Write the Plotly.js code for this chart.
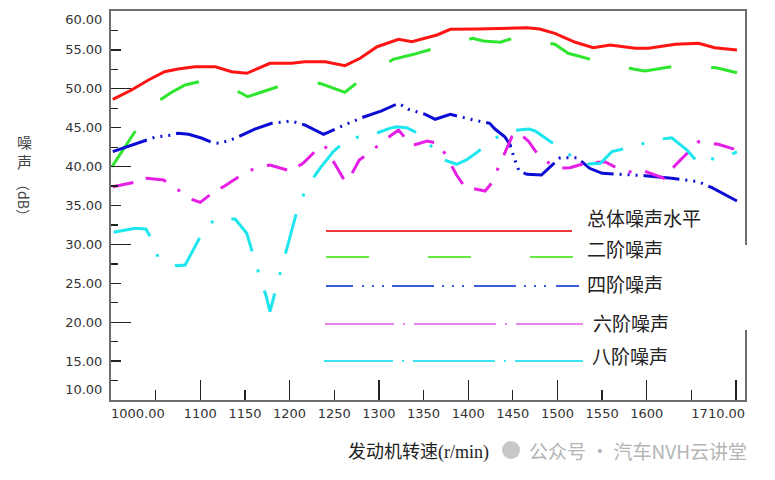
<!DOCTYPE html>
<html><head><meta charset="utf-8">
<script src="https://cdn.plot.ly/plotly-3.0.1.min.js"></script>
<style>html,body{margin:0;padding:0;background:#fff}#chart{width:775px;height:480px}</style>
</head><body><div id="chart"></div>
<script>
// ---- data ----
const seriesNames = ['总体噪声水平','二阶噪声','四阶噪声','六阶噪声','八阶噪声'];

const rpmTotal = [1002,1023,1042,1060,1075,1094,1117,1135,1152,1165,1178,1202,1217,1240,1262,1279,1298,1322,1337,1365,1380,1410,1443,1466,1480,1497,1520,1540,1559,1587,1602,1632,1658,1676,1701];
const dbTotal  = [48.65,49.85,51.13,52.2,52.54,52.84,52.84,52.2,51.99,52.63,53.28,53.28,53.48,53.48,52.97,53.92,55.41,56.36,56.05,56.92,57.65,57.69,57.78,57.85,57.69,57.13,55.98,55.28,55.63,55.21,55.21,55.72,55.85,55.28,54.99];

const rpm2 = [1001,1028,1055,1068,1083,1099,1144,1153,1187,1234,1262,1277,1316,1339,1363,1405,1417,1436,1452,1497,1512,1540,1586,1598,1632,1678,1701];
const db2  = [39.95,44.7,48.56,49.55,50.49,50.91,49.55,48.98,50.27,50.71,49.55,50.91,53.79,54.43,55.21,56.49,56.14,55.98,56.57,55.72,54.56,53.7,52.51,52.29,52.93,52.71,52.07];

const rpm4 = [1002,1027,1049,1068,1075,1087,1102,1113,1122,1139,1161,1180,1193,1202,1217,1238,1257,1281,1303,1322,1333,1352,1363,1380,1406,1424,1430,1441,1447,1451,1457,1466,1482,1492,1503,1522,1536,1550,1572,1598,1628,1658,1673,1701];
const db4  = [41.92,42.87,43.77,44.06,44.28,44.15,43.64,43.12,42.99,43.64,44.83,45.57,45.69,45.86,45.35,44.15,45.13,46.29,47.15,48.14,47.37,46.72,46.08,46.72,45.99,45.57,44.83,43.84,42.78,41.27,39.43,39.01,38.92,39.99,41.14,41.14,39.78,39.14,39.01,38.83,38.5,38.06,37.29,35.58];

const rpm6 = [1002,1029,1040,1059,1064,1079,1092,1100,1113,1126,1146,1161,1178,1201,1215,1232,1239,1247,1260,1263,1267,1278,1290,1305,1322,1333,1339,1354,1367,1376,1387,1396,1419,1426,1434,1443,1449,1457,1468,1477,1492,1501,1514,1531,1553,1566,1583,1594,1604,1619,1634,1658,1680,1701];
const db6  = [37.42,38.06,38.5,38.28,37.85,36.65,35.71,35.41,36.57,37.42,38.92,39.78,40.21,39.43,40.42,42.35,42.78,41.07,38.5,38.15,38.5,40.85,41.84,43.29,44.7,43.2,42.78,43.29,42.99,41.27,38.92,37.42,36.86,37.85,39.86,42.35,43.84,44.36,43.2,41.71,40.3,39.78,39.86,40.42,40.63,39.86,39.27,39.56,39.14,38.5,40.42,43.2,42.87,42.13];

const rpm8 = [1003,1027,1039,1045,1053,1074,1083,1100,1116,1139,1152,1159,1166,1174,1178,1185,1191,1198,1210,1221,1234,1249,1266,1290,1312,1320,1331,1344,1355,1368,1387,1398,1411,1426,1447,1468,1475,1490,1508,1529,1548,1561,1585,1608,1628,1645,1658,1663,1686,1701];
const db8  = [31.55,32.07,31.98,30.78,28.29,27.26,27.35,30.99,33.26,33.26,31.43,28.64,26.07,23.28,21.35,24.43,27.13,29.92,35.06,37.63,39.78,41.92,43.64,43.97,44.92,45.13,45.0,44.28,43.2,41.07,40.3,40.85,41.92,43.42,44.58,44.83,44.58,43.42,42.01,40.3,40.42,41.92,42.56,43.42,43.71,42.13,40.42,40.85,41.14,41.88];

const yTickVals = [58.97,55,50,45,40,35,30,25,20,15,11.4];
const yTickText = ['60.00','55.00','50.00','45.00','40.00','35.00','30.00','25.00','20.00','15.00','10.00'];
const xTickVals = [1030,1100,1150,1200,1250,1300,1350,1400,1450,1500,1550,1600,1680];
const xTickText = ['1000.00','1100','1150','1200','1250','1300','1350','1400','1450','1500','1550','1600','1710.00'];

const yTitleChars = ['噪','声'];
const yTitleUnit = '（dB）';
const xTitle = '发动机转速<span style="font-family:Liberation Serif">(r/min)</span>';
const watermark = '公众号 · 汽车NVH云讲堂';

// ---- styles ----
const colors = ['#ff1414','#2ee62e','#0c0cd4','#e61ee6','#1ee6ee'];
const legendColors = ['#ef3a3a','#66ea40','#3a5fd6','#ea84ea','#3ce4f0'];
const dashes = ['solid','43px,40px','36px,6px,2px,6px,2px,6px,2px,6px','21px,13px,21px,14px,3px,14px','41px,19px,3px,19px'];
const legendDashes = ['solid','43px,59px',
  '27px,9px,2px,8px,2px,8px,2px,8px,42px,8px,2px,8px,2px,8px,2px,10px,42px,8px,2px,8px,2px,8px,2px,10px,40px',
  '69px,9px,2px,9px,82px,9px,2px,9px,80px',
  '69px,9px,2px,9px,82px,9px,2px,9px,80px'];

const L=111,R=745,T=11,B=400;
const px = x => (x-L)/(R-L);
const py = y => (B-y)/(B-T);

const xs=[rpmTotal,rpm2,rpm4,rpm6,rpm8], ys=[dbTotal,db2,db4,db6,db8];
const traces = xs.map((x,i)=>({type:'scatter',mode:'lines',x:x,y:ys[i],name:seriesNames[i],
  line:{color:colors[i],width:3,dash:dashes[i]},hoverinfo:'skip',showlegend:false}));
traces.push({type:'scatter',mode:'lines',x:[],y:[],xaxis:'x2',yaxis:'y2',showlegend:false,hoverinfo:'skip'});
traces.push({type:'scatter',mode:'lines',x:[],y:[],xaxis:'x3',yaxis:'y3',showlegend:false,hoverinfo:'skip'});

const tickFont = {family:'DejaVu Sans, Verdana, sans-serif',size:13,color:'#333'};
const baseAx = {showgrid:false,zeroline:false,fixedrange:true};

// legend geometry (pixels)
const legRows = [
  {ly:231,x0:326,x1:572,ty:217,tx:585},
  {ly:257,x0:326,x1:573,ty:248,tx:585},
  {ly:286,x0:326,x1:579,ty:283,tx:585},
  {ly:324,x0:325,x1:583,ty:322,tx:591},
  {ly:361,x0:324,x1:583,ty:355,tx:590}
];
const shapes = [
  {type:'rect',xref:'paper',yref:'paper',x0:px(739),x1:px(752),y0:py(245),y1:py(330),fillcolor:'#fff',line:{width:0},layer:'above'},
  {type:'circle',xref:'paper',yref:'paper',x0:px(502),x1:px(520),y0:py(459),y1:py(441),fillcolor:'#c8c8c8',line:{width:0},layer:'above'}
];
const annotations = [];
legRows.forEach((r,i)=>{
  shapes.push({type:'line',xref:'paper',yref:'paper',x0:px(r.x0),x1:px(r.x1),y0:py(r.ly),y1:py(r.ly),
    line:{color:legendColors[i],width:2,dash:legendDashes[i]},layer:'above'});
  annotations.push({xref:'paper',yref:'paper',x:px(r.tx),y:py(r.ty),xanchor:'left',yanchor:'middle',showarrow:false,
    text:seriesNames[i],font:{family:'Noto Sans CJK SC',size:19,color:'#222'}});
});
[141,161].forEach((yy,i)=>{
  annotations.push({xref:'paper',yref:'paper',x:px(24),y:py(yy),xanchor:'center',yanchor:'middle',showarrow:false,
    text:yTitleChars[i],font:{family:'Noto Sans CJK SC',size:15,color:'#444'},borderpad:0});
});
annotations.push({xref:'paper',yref:'paper',x:px(24),y:py(200),xanchor:'center',yanchor:'middle',showarrow:false,textangle:90,
  text:yTitleUnit,font:{family:'Noto Sans CJK SC',size:14,color:'#444'},borderpad:0});
annotations.push({xref:'paper',yref:'paper',x:px(418),y:py(450),xanchor:'center',yanchor:'middle',showarrow:false,
  text:xTitle,font:{family:'Noto Sans CJK SC',size:18,color:'#222'}});
annotations.push({xref:'paper',yref:'paper',x:px(527),y:py(450),xanchor:'left',yanchor:'middle',showarrow:false,
  text:watermark,font:{family:'Noto Sans CJK SC',size:19,color:'#b4b4b4'}});

const layout = {
  width:775,height:480,margin:{l:L,r:775-R,t:T,b:480-B},
  paper_bgcolor:'#fff',plot_bgcolor:'#fff',showlegend:false,
  xaxis:Object.assign({},baseAx,{range:[1000,1710],showline:true,mirror:true,linecolor:'#6e6e6e',linewidth:2,
    ticks:'',tickmode:'array',tickvals:xTickVals,ticktext:xTickText,tickfont:tickFont}),
  yaxis:Object.assign({},baseAx,{range:[10,60],showline:true,mirror:true,linecolor:'#6e6e6e',linewidth:2,
    ticks:'',tickmode:'array',tickvals:yTickVals,ticktext:yTickText,tickfont:tickFont,ticklabelstandoff:4}),
  xaxis2:Object.assign({},baseAx,{overlaying:'x',anchor:'y2',range:[1000,1710],ticks:'inside',tick0:1000,dtick:50,
    ticklen:10,tickwidth:1.3,tickcolor:'#222',showticklabels:false,showline:false}),
  yaxis2:Object.assign({},baseAx,{overlaying:'y',anchor:'x2',range:[10,60],ticks:'inside',tick0:10,dtick:5,
    ticklen:10,tickwidth:1.3,tickcolor:'#222',showticklabels:false,showline:false,
    minor:{ticks:'inside',tick0:10,dtick:2.5,ticklen:7,tickwidth:1.3,tickcolor:'#222'}}),
  xaxis3:Object.assign({},baseAx,{overlaying:'x',anchor:'y3',range:[1000,1710],ticks:'inside',tick0:1000,dtick:100,
    ticklen:20,tickwidth:1.3,tickcolor:'#222',showticklabels:false,showline:false}),
  yaxis3:Object.assign({},baseAx,{overlaying:'y',anchor:'x3',range:[10,60],ticks:'inside',tick0:10,dtick:10,
    ticklen:20,tickwidth:1.3,tickcolor:'#222',showticklabels:false,showline:false}),
  shapes:shapes,annotations:annotations
};
Plotly.newPlot('chart',traces,layout,{displayModeBar:false,staticPlot:true});
</script></body></html>
